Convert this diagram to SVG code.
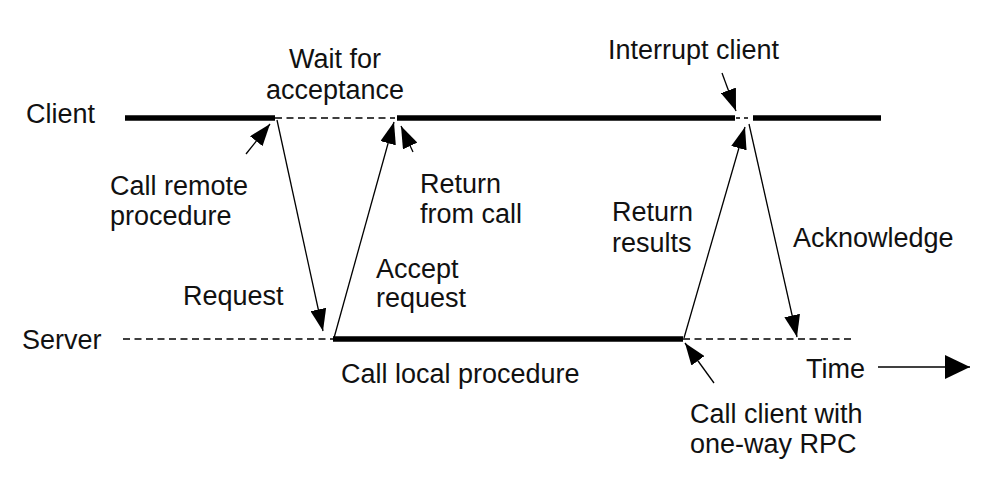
<svg xmlns="http://www.w3.org/2000/svg" width="984" height="480" viewBox="0 0 984 480">
  <style>
    text { font-family: "Liberation Sans", Arial, sans-serif; font-size: 27px; fill: #111; }
    .thick { stroke: #000; stroke-width: 5.5; fill: none; }
    .dash { stroke: #000; stroke-width: 1.5; stroke-dasharray: 7 4.5; fill: none; }
    .msg { stroke: #000; stroke-width: 1.3; fill: none; marker-end: url(#head); }
    .note { stroke: #000; stroke-width: 1.3; fill: none; marker-end: url(#head); }
  </style>
  <defs>
    <marker id="head" markerUnits="userSpaceOnUse" markerWidth="24" markerHeight="16" refX="22" refY="8" orient="auto">
      <path d="M0,0 L22,8 L0,16 z" fill="#000"/>
    </marker>
    <marker id="bighead" markerUnits="userSpaceOnUse" markerWidth="26" markerHeight="24" refX="25" refY="12" orient="auto">
      <path d="M0,0 L25,12 L0,24 z" fill="#000"/>
    </marker>
  </defs>

  <!-- timelines -->
  <g id="client">
    <text x="26" y="123">Client</text>
    <line class="thick" x1="125" y1="118" x2="275" y2="118"/>
    <line class="dash" x1="275" y1="118" x2="395" y2="118"/>
    <line class="thick" x1="397" y1="118" x2="735" y2="118"/>
    <line class="dash" x1="736" y1="118" x2="752" y2="118" style="stroke-dasharray:4 4"/>
    <line class="thick" x1="753" y1="118" x2="881" y2="118"/>
  </g>
  <g id="server">
    <text x="22" y="349">Server</text>
    <line class="dash" x1="123" y1="339" x2="333" y2="339"/>
    <line class="thick" x1="333" y1="339" x2="683" y2="339"/>
    <line class="dash" x1="683" y1="339" x2="853" y2="339"/>
  </g>

  <!-- labels -->
  <g id="wait-label">
    <text x="335" y="68" text-anchor="middle">Wait for</text>
    <text x="335" y="99" text-anchor="middle">acceptance</text>
  </g>
  <g id="interrupt-label">
    <text x="608" y="59">Interrupt client</text>
  </g>
  <g id="call-remote-label">
    <text x="110" y="195">Call remote</text>
    <text x="110" y="225">procedure</text>
  </g>
  <g id="return-call-label">
    <text x="420" y="193">Return</text>
    <text x="420" y="223">from call</text>
  </g>
  <g id="accept-label">
    <text x="376" y="278">Accept</text>
    <text x="376" y="307">request</text>
  </g>
  <g id="request-label">
    <text x="183" y="305">Request</text>
  </g>
  <g id="return-results-label">
    <text x="612" y="221">Return</text>
    <text x="612" y="252">results</text>
  </g>
  <g id="ack-label">
    <text x="793" y="247">Acknowledge</text>
  </g>
  <g id="local-label">
    <text x="341" y="383">Call local procedure</text>
  </g>
  <g id="time-label">
    <text x="806" y="378">Time</text>
  </g>
  <g id="oneway-label">
    <text x="690" y="423">Call client with</text>
    <text x="690" y="453">one-way RPC</text>
  </g>

  <!-- connectors -->
  <g id="connectors">
    <line class="msg" x1="277" y1="120" x2="323" y2="331"/>
    <line class="msg" x1="334" y1="338" x2="394" y2="122"/>
    <line class="msg" x1="684" y1="338" x2="745" y2="127"/>
    <line class="msg" x1="749" y1="124" x2="797" y2="337"/>
    <line class="note" x1="246" y1="154" x2="270" y2="124"/>
    <line class="note" x1="413" y1="152" x2="401" y2="126"/>
    <line class="note" x1="722" y1="73" x2="736" y2="111"/>
    <line class="note" x1="714" y1="383" x2="685" y2="343"/>
    <line x1="878" y1="367" x2="970" y2="367" stroke="#000" stroke-width="1.3" marker-end="url(#bighead)"/>
  </g>
</svg>
